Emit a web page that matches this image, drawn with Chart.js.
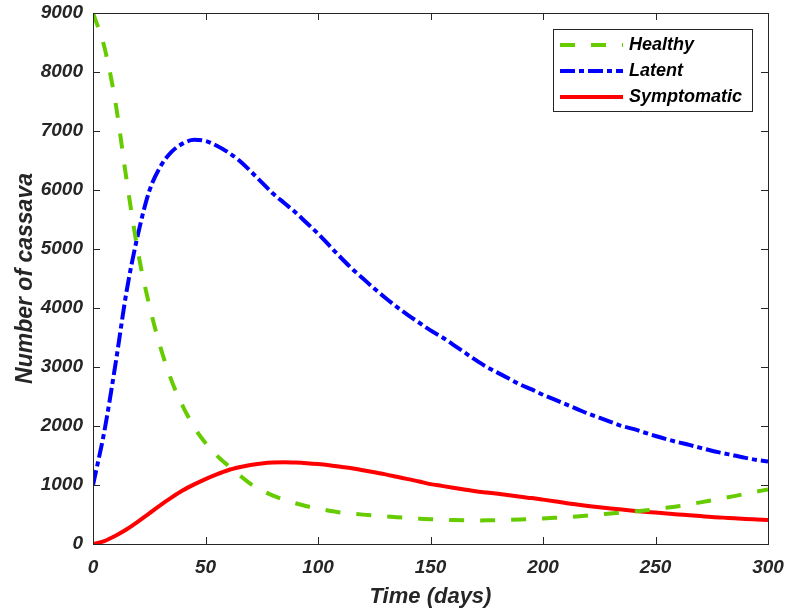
<!DOCTYPE html>
<html lang="en">
<head>
    <meta charset="UTF-8">
    <title>Cassava disease dynamics</title>
    <script src="https://cdn.jsdelivr.net/npm/chart.js"></script>
    <style>
        html, body { margin: 0; padding: 0; background: #fff; }
        #wrap { width: 791px; height: 613px; }
    </style>
</head>
<body>
<div id="wrap"><canvas id="cassavaChart" width="791" height="613"></canvas></div>
<script>
// time in days, every 5 days
const days = [];
for (let d = 0; d <= 300; d += 5) days.push(d);

const healthy = [
    9000, 8430, 7480, 6150, 4950, 4050, 3330, 2760, 2330, 1980,
    1710, 1500, 1330, 1170, 1020, 910, 820, 750, 690, 640,
    600, 565, 535, 515, 498, 483, 470, 455, 442, 430,
    420, 412, 405, 401, 400, 401, 405, 410, 416, 423,
    432, 443, 455, 468, 483, 500, 518, 535, 550, 568,
    590, 615, 640, 672, 705, 740, 775, 812, 850, 888,
    925
];
const latent = [
    1000, 1900, 3050, 4300, 5250, 5980, 6400, 6650, 6790, 6850,
    6830, 6750, 6640, 6500, 6320, 6130, 5940, 5780, 5620, 5440,
    5260, 5060, 4860, 4670, 4500, 4330, 4170, 4020, 3880, 3750,
    3620, 3510, 3380, 3250, 3120, 3000, 2900, 2800, 2700, 2620,
    2530, 2450, 2370, 2290, 2210, 2140, 2070, 2000, 1950, 1890,
    1830, 1775, 1725, 1680, 1630, 1580, 1540, 1500, 1460, 1425,
    1400
];
const symptomatic = [
    0, 50, 140, 250, 380, 520, 660, 790, 910, 1010,
    1100, 1180, 1250, 1300, 1340, 1365, 1380, 1385, 1380, 1370,
    1355, 1335, 1310, 1285, 1250, 1215, 1180, 1140, 1100, 1060,
    1015, 985, 955, 925, 895, 872, 850, 825, 800, 778,
    752, 725, 695, 670, 645, 622, 602, 583, 565, 548,
    533, 517, 502, 488, 473, 458, 447, 436, 425, 415,
    405
];

const xTicks = [0, 50, 100, 150, 200, 250, 300];
const yTicks = [0, 1000, 2000, 3000, 4000, 5000, 6000, 7000, 8000, 9000];

const axisFont = { family: "'Liberation Sans', Arial, sans-serif", size: 19, weight: 'bold', style: 'italic' };
const titleFont = { family: "'Liberation Sans', Arial, sans-serif", size: 22, weight: 'bold', style: 'italic' };
const yTitleFont = Object.assign({}, titleFont, { size: 23 });
const textColor = '#262626';

const pts = arr => arr.map((v, i) => ({ x: days[i], y: v }));

// box + inward ticks, matlab style
const boxPlugin = {
    id: 'box',
    afterDatasetsDraw(chart) {
        const { ctx, chartArea: a, scales } = chart;
        ctx.save();
        ctx.strokeStyle = '#262626';
        ctx.lineWidth = 1;
        ctx.strokeRect(a.left + 0.5, a.top + 0.5, a.right - a.left, a.bottom - a.top);
        ctx.beginPath();
        xTicks.forEach(t => {
            const x = Math.round(scales.x.getPixelForValue(t)) + 0.5;
            ctx.moveTo(x, a.bottom); ctx.lineTo(x, a.bottom - 7);
            ctx.moveTo(x, a.top); ctx.lineTo(x, a.top + 7);
        });
        yTicks.forEach(t => {
            const y = Math.round(scales.y.getPixelForValue(t)) + 0.5;
            ctx.moveTo(a.left, y); ctx.lineTo(a.left + 7, y);
            ctx.moveTo(a.right, y); ctx.lineTo(a.right - 7, y);
        });
        ctx.stroke();
        ctx.restore();
    }
};

// legend inside the axes, top right
const legendPlugin = {
    id: 'boxLegend',
    afterDraw(chart) {
        const { ctx } = chart;
        const x0 = 553, y0 = 29, w = 199, h = 82;
        ctx.save();
        ctx.fillStyle = '#fff';
        ctx.fillRect(x0, y0, w, h);
        ctx.strokeStyle = '#262626';
        ctx.lineWidth = 1;
        ctx.strokeRect(x0 + 0.5, y0 + 0.5, w, h);
        ctx.font = 'italic bold 18px "Liberation Sans", Arial, sans-serif';
        ctx.textBaseline = 'middle';
        chart.data.datasets.forEach((ds, i) => {
            const y = y0 + 16 + i * 26;
            ctx.beginPath();
            ctx.strokeStyle = ds.borderColor;
            ctx.lineWidth = ds.borderWidth;
            ctx.setLineDash(ds.borderDash || []);
            ctx.moveTo(x0 + 7, y);
            ctx.lineTo(x0 + 70, y);
            ctx.stroke();
            ctx.setLineDash([]);
            ctx.fillStyle = '#000';
            ctx.fillText(ds.label, x0 + 76, y);
        });
        ctx.restore();
    }
};

new Chart(document.getElementById('cassavaChart').getContext('2d'), {
    type: 'line',
    data: {
        datasets: [
            {
                label: 'Healthy',
                data: pts(healthy),
                borderColor: 'rgb(102, 204, 0)',
                borderWidth: 4,
                borderDash: [15, 16],
                pointRadius: 0,
                fill: false,
                cubicInterpolationMode: 'monotone'
            },
            {
                label: 'Latent',
                data: pts(latent),
                borderColor: '#0000ff',
                borderWidth: 4,
                borderDash: [15, 4, 5, 4],
                pointRadius: 0,
                fill: false,
                cubicInterpolationMode: 'monotone'
            },
            {
                label: 'Symptomatic',
                data: pts(symptomatic),
                borderColor: '#ff0000',
                borderWidth: 4,
                pointRadius: 0,
                fill: false,
                cubicInterpolationMode: 'monotone'
            }
        ]
    },
    options: {
        responsive: false,
        animation: false,
        events: [],
        layout: { padding: { top: 13, right: 23, left: 0, bottom: 0 } },
        plugins: { legend: { display: false }, tooltip: { enabled: false } },
        scales: {
            x: {
                type: 'linear',
                min: 0,
                max: 300,
                afterBuildTicks: s => { s.ticks = xTicks.map(v => ({ value: v })); },
                afterFit: s => { s.height = 69; s.paddingLeft = 0; s.paddingRight = 0; },
                grid: { display: false, drawTicks: false },
                border: { display: false },
                ticks: { color: textColor, font: axisFont, padding: 12, maxRotation: 0 },
                title: { display: true, text: 'Time (days)', color: textColor, font: titleFont, padding: { top: 0, bottom: 3 } }
            },
            y: {
                min: 0,
                max: 9000,
                afterBuildTicks: s => { s.ticks = yTicks.map(v => ({ value: v })); },
                afterFit: s => { s.width = 93; s.paddingTop = 0; s.paddingBottom = 0; },
                grid: { display: false, drawTicks: false },
                border: { display: false },
                ticks: { color: textColor, font: axisFont, padding: 10, callback: v => String(v) },
                title: { display: true, text: 'Number of cassava', color: textColor, font: yTitleFont, padding: { top: 12, bottom: 0 } }
            }
        }
    },
    plugins: [boxPlugin, legendPlugin]
});
</script>
</body>
</html>
